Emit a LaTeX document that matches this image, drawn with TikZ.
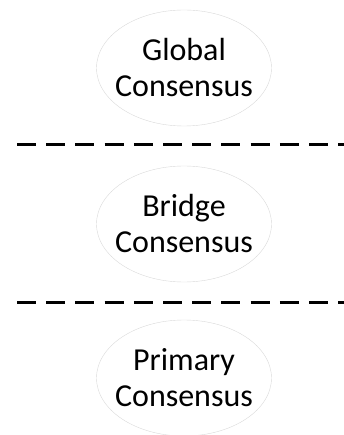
\documentclass[tikz,border=0pt]{standalone}
\usepackage{fontspec}
\setmainfont{Carlito}
\usetikzlibrary{shapes.geometric}
\tikzset{
  layer/.style={draw=black!15, ellipse, minimum width=175pt, minimum height=116pt,
    inner xsep=-12pt, inner ysep=0pt, align=center, font=\fontsize{32}{36}\selectfont},
  divider/.style={line width=3pt, dash pattern=on 19pt off 10.2pt}
}
\begin{document}
\begin{tikzpicture}[x=1pt,y=-1pt]
\useasboundingbox (0,0) rectangle (344,435);
\node[layer] (global) at (184,68) {Global\\Consensus};
\node[layer] (bridge) at (184,224) {Bridge\\Consensus};
\node[layer] (primary) at (184,378) {Primary\\Consensus};
\coordinate (d1a) at (17,145);
\coordinate (d1b) at (344,145);
\coordinate (d2a) at (17,302);
\coordinate (d2b) at (344,302);
\draw[divider] (d1a) -- (d1b);
\draw[divider] (d2a) -- (d2b);
\end{tikzpicture}
\end{document}
